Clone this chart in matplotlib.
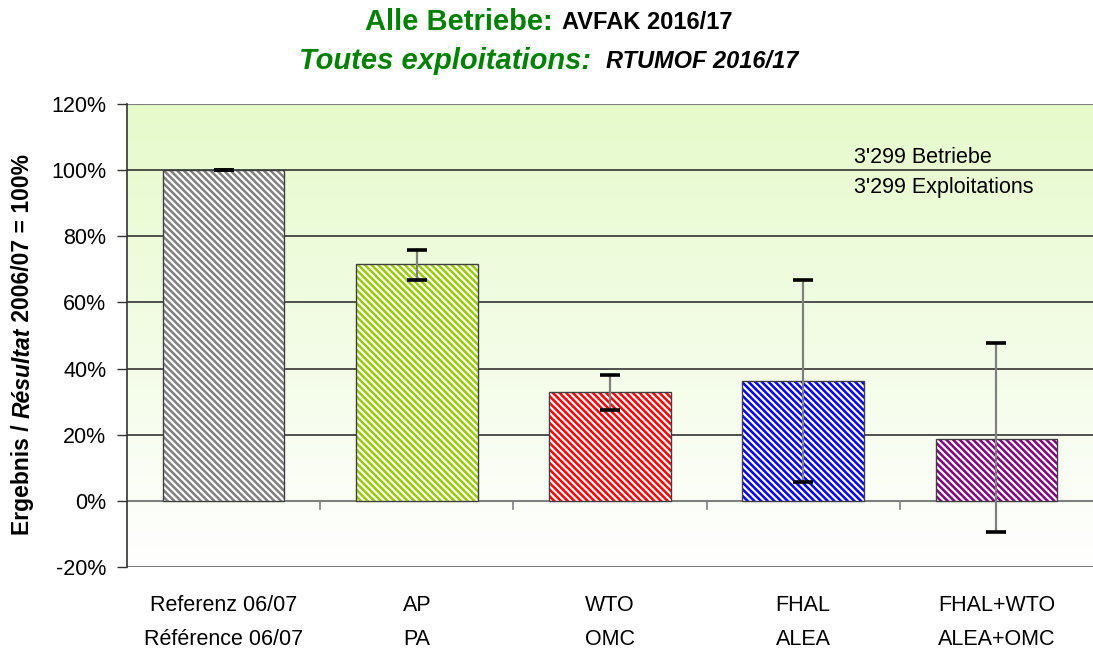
import numpy as np
import matplotlib.pyplot as plt
from matplotlib.colors import LinearSegmentedColormap

# data (percent of 2006/07 result)
labels_de = ["Referenz 06/07", "AP", "WTO", "FHAL", "FHAL+WTO"]
labels_fr = ["Référence 06/07", "PA", "OMC", "ALEA", "ALEA+OMC"]
values = [100, 71.5, 32.8, 36.2, 18.8]
err_hi = [100, 76.0, 38.2, 66.8, 47.6]
err_lo = [100, 66.8, 27.5, 5.8, -9.5]
colors = ["#808080", "#99CC00", "#FF0000", "#0000FF", "#800080"]

plt.rcParams['font.family'] = ['Liberation Sans', 'DejaVu Sans']
plt.rcParams['hatch.linewidth'] = 1.8

fig = plt.figure(figsize=(10.93, 6.52), dpi=100)
ax = fig.add_axes([0.1162, 0.1304, 0.8838, 0.7101])

x = np.arange(len(values))
ax.set_xlim(-0.5, len(values) - 0.5)
ax.set_ylim(-20, 120)

# green-to-white gradient background
cmap = LinearSegmentedColormap.from_list("bg", ["#FFFFFF", "#E6FACB"])
grad = np.linspace(0, 1, 256).reshape(-1, 1)
ax.imshow(grad, cmap=cmap, origin="lower", aspect="auto",
          extent=[-0.5, len(values) - 0.5, -20, 120], zorder=0)

# grid lines
for yv in [20, 40, 60, 80, 100]:
    ax.axhline(yv, color="#222222", lw=1.1, zorder=1)
ax.axhline(0, color="#808080", lw=1.5, zorder=1)
ax.axhline(-20, color="#808080", lw=1.5, zorder=1)
ax.axhline(120, color="#808080", lw=1.5, zorder=1)

for i in range(len(values)):
    ax.bar(x[i], values[i], width=0.63, color="white", edgecolor=colors[i],
           hatch="\\" * 5, lw=0, zorder=2)
    ax.bar(x[i], values[i], width=0.63, fill=False, edgecolor="#404040",
           lw=1.0, zorder=3)

# error bars: gray stem, black caps
for i in range(len(values)):
    ax.plot([x[i], x[i]], [err_lo[i], err_hi[i]], color="#808080", lw=1.6, zorder=4)
    ax.plot([x[i], x[i]], [err_lo[i], err_hi[i]], ls="none", marker="_",
            ms=14, mew=2.6, color="black", zorder=5)

# category separator ticks on the zero line
for b in x[:-1] + 0.5:
    ax.plot([b, b], [0, -2.4], color="#808080", lw=1.2, zorder=1)

ax.set_yticks(np.arange(-20, 121, 20))
ax.set_yticklabels([f"{v}%" for v in range(-20, 121, 20)], fontsize=15.5)
ax.tick_params(axis="y", length=7, width=1, color="#333333", pad=8)
ax.set_xticks(x)
ax.set_xticklabels([f"{a}\n{b}" for a, b in zip(labels_de, labels_fr)],
                   fontsize=15.5, linespacing=1.8)
ax.tick_params(axis="x", length=0, pad=20)

for s in ["top", "right", "bottom"]:
    ax.spines[s].set_visible(False)
ax.spines["left"].set_color("#333333")
ax.spines["left"].set_linewidth(1.2)

ax.text(0.7526, 0.8855, "3'299 Betriebe", transform=ax.transAxes,
        fontsize=15.5, va="center", ha="left")
ax.text(0.7526, 0.8207, "3'299 Exploitations", transform=ax.transAxes,
        fontsize=15.5, va="center", ha="left")

fig.canvas.draw()
r = fig.canvas.get_renderer()
W = fig.bbox.width

# titles (green part + black part, centred as one line)
green = "#008000"
title_lines = [
    (0.966, ("Alle Betriebe:", "normal", 21), ("AVFAK 2016/17", "normal", 17), 9),
    (0.906, ("Toutes exploitations:", "italic", 21), ("RTUMOF 2016/17", "italic", 17), 15),
]
for yy, (t1, s1, f1), (t2, s2, f2), gap in title_lines:
    a = fig.text(0, yy, t1, color=green, fontsize=f1, fontweight="bold", style=s1,
                 ha="left", va="center")
    b = fig.text(0, yy, t2, color="black", fontsize=f2, fontweight="bold", style=s2,
                 ha="left", va="center")
    wa = a.get_window_extent(r).width
    wb = b.get_window_extent(r).width
    x0 = 549 - (wa + gap + wb) / 2
    a.set_x(x0 / W)
    b.set_x((x0 + wa + gap) / W)

# y label with italic middle part
parts = [("Ergebnis / ", "normal"), ("Résultat", "italic"), (" 2006/07 = 100%", "normal")]
ypos = 1 - 535 / 652
for txt, st in parts:
    t = fig.text(0.021, ypos, txt, rotation=90, fontsize=16.5, fontweight="bold",
                 style=st, ha="center", va="bottom")
    bb = t.get_window_extent(r)
    ypos += bb.height / fig.bbox.height

fig.savefig("out.png", dpi=100)
